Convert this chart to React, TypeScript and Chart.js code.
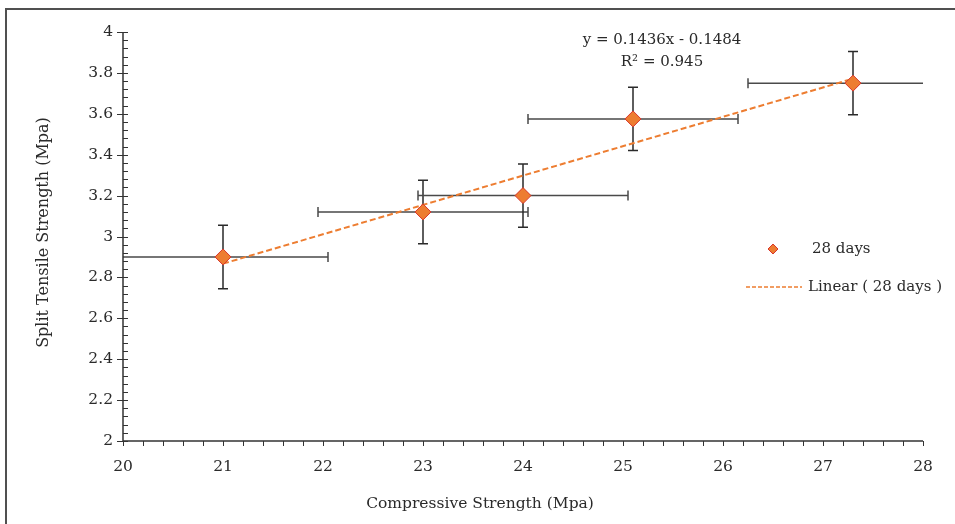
import React, { useEffect, useRef } from "react";
import { Chart, registerables } from "chart.js";

Chart.register(...registerables);

const seriesLabel = "28 days";
const trendLabel = "Linear ( 28 days )";
const xValues = [21, 23, 24, 25.1, 27.3];
const yValues = [2.9, 3.12, 3.2, 3.575, 3.75];
const xErrors = [1.05, 1.05, 1.05, 1.05, 1.05];
const yErrors = [0.155, 0.155, 0.155, 0.155, 0.155];
const slope = 0.1436;
const intercept = -0.1484;
const rSquared = 0.945;
const xTickValues = [20, 21, 22, 23, 24, 25, 26, 27, 28];
const xTickLabels = ["20", "21", "22", "23", "24", "25", "26", "27", "28"];
const yTickValues = [2, 2.2, 2.4, 2.6, 2.8, 3, 3.2, 3.4, 3.6, 3.8, 4];
const yTickLabels = ["2", "2.2", "2.4", "2.6", "2.8", "3", "3.2", "3.4", "3.6", "3.8", "4"];
const xMinorStep = 0.2;
const yMinorStep = 0.04;
const xTitle = "Compressive Strength (Mpa)";
const yTitle = "Split Tensile Strength (Mpa)";

const FONT = "'DejaVu Serif', serif";
const TEXT = "#2a2a2a";
const ORANGE = "#ED7D31";
const MARKER_BORDER = "#D9352B";

const customPlugin = {
  id: "custom",
  beforeDatasetsDraw(chart: any) {
    const { ctx, chartArea } = chart;
    const xs = chart.scales.x;
    const ys = chart.scales.y;
    ctx.save();
    ctx.beginPath();
    ctx.rect(chartArea.left, chartArea.top - 20, chartArea.right - chartArea.left, chartArea.bottom - chartArea.top + 20);
    ctx.clip();
    ctx.lineWidth = 1.5;
    const cap = 5;
    xValues.forEach((xv, i) => {
      const px = xs.getPixelForValue(xv);
      const py = ys.getPixelForValue(yValues[i]);
      const x1 = xs.getPixelForValue(xv - xErrors[i]);
      const x2 = xs.getPixelForValue(xv + xErrors[i]);
      const y1 = ys.getPixelForValue(yValues[i] + yErrors[i]);
      const y2 = ys.getPixelForValue(yValues[i] - yErrors[i]);
      ctx.strokeStyle = "#4a4a4a";
      ctx.beginPath();
      ctx.moveTo(x1, py); ctx.lineTo(x2, py);
      ctx.moveTo(x1, py - cap); ctx.lineTo(x1, py + cap);
      ctx.moveTo(x2, py - cap); ctx.lineTo(x2, py + cap);
      ctx.stroke();
      ctx.strokeStyle = "#2a2a2a";
      ctx.beginPath();
      ctx.moveTo(px, y1); ctx.lineTo(px, y2);
      ctx.moveTo(px - cap, y1); ctx.lineTo(px + cap, y1);
      ctx.moveTo(px - cap, y2); ctx.lineTo(px + cap, y2);
      ctx.stroke();
    });
    ctx.restore();
  },
  afterDraw(chart: any) {
    const { ctx, chartArea } = chart;
    const xs = chart.scales.x;
    const ys = chart.scales.y;
    ctx.save();
    // frame
    ctx.strokeStyle = "#505050";
    ctx.lineWidth = 2;
    ctx.beginPath();
    ctx.moveTo(6, 524);
    ctx.lineTo(6, 9);
    ctx.lineTo(955, 9);
    ctx.stroke();

    // axis lines & ticks
    ctx.strokeStyle = "#333333";
    ctx.lineWidth = 1.5;
    ctx.beginPath();
    ctx.moveTo(chartArea.left, chartArea.top);
    ctx.lineTo(chartArea.left, chartArea.bottom);
    ctx.lineTo(chartArea.right, chartArea.bottom);
    ctx.stroke();
    ctx.lineWidth = 1;
    ctx.beginPath();
    const xMin = xTickValues[0];
    const xMax = xTickValues[xTickValues.length - 1];
    const nx = Math.round((xMax - xMin) / xMinorStep);
    for (let i = 0; i <= nx; i++) {
      const px = Math.round(xs.getPixelForValue(xMin + i * xMinorStep)) + 0.5;
      ctx.moveTo(px, chartArea.bottom);
      ctx.lineTo(px, chartArea.bottom + 5);
    }
    const yMin = yTickValues[0];
    const yMax = yTickValues[yTickValues.length - 1];
    const ny = Math.round((yMax - yMin) / yMinorStep);
    for (let i = 0; i <= ny; i++) {
      const py = Math.round(ys.getPixelForValue(yMin + i * yMinorStep)) + 0.5;
      const major = i % 5 === 0;
      ctx.moveTo(chartArea.left - (major ? 6 : 0), py);
      ctx.lineTo(chartArea.left + 5, py);
    }
    ctx.stroke();

    // equation
    ctx.fillStyle = TEXT;
    ctx.font = `15px ${FONT}`;
    ctx.textAlign = "center";
    ctx.textBaseline = "middle";
    const ex = xs.getPixelForValue(25.39);
    const ey = ys.getPixelForValue(3.96);
    const sign = intercept < 0 ? "-" : "+";
    ctx.fillText(`y = ${slope}x ${sign} ${Math.abs(intercept)}`, ex, ey);
    ctx.fillText(`R² = ${rSquared}`, ex, ey + 22);

    // titles
    ctx.font = `15.5px ${FONT}`;
    ctx.fillText(xTitle, 480, 504);
    ctx.save();
    ctx.translate(44, (chartArea.top + chartArea.bottom) / 2 - 4);
    ctx.rotate(-Math.PI / 2);
    ctx.font = `16px ${FONT}`;
    ctx.fillText(yTitle, 0, 0);
    ctx.restore();

    // legend
    ctx.textAlign = "left";
    ctx.font = `15px ${FONT}`;
    const lx = 773, ly = 249, r = 5;
    ctx.beginPath();
    ctx.moveTo(lx, ly - r); ctx.lineTo(lx + r, ly); ctx.lineTo(lx, ly + r); ctx.lineTo(lx - r, ly); ctx.closePath();
    ctx.fillStyle = ORANGE; ctx.fill();
    ctx.strokeStyle = MARKER_BORDER; ctx.lineWidth = 1; ctx.stroke();
    ctx.fillStyle = TEXT;
    ctx.fillText(seriesLabel, 812, ly);
    ctx.beginPath();
    ctx.setLineDash([4, 2]);
    ctx.strokeStyle = ORANGE; ctx.lineWidth = 1.5;
    ctx.moveTo(746, 287); ctx.lineTo(802, 287);
    ctx.stroke();
    ctx.setLineDash([]);
    ctx.fillText(trendLabel, 808, 287);
    ctx.restore();
  },
};

export default function App() {
  const ref = useRef<HTMLCanvasElement | null>(null);
  useEffect(() => {
    document.body.style.margin = "0";
    const trendX = [Math.min(...xValues), Math.max(...xValues)];
    const chart = new Chart(ref.current as HTMLCanvasElement, {
      type: "scatter",
      data: {
        datasets: [
          {
            label: trendLabel,
            type: "line",
            data: trendX.map((x) => ({ x, y: slope * x + intercept })),
            borderColor: ORANGE,
            borderWidth: 2,
            borderDash: [6, 3],
            pointRadius: 0,
            fill: false,
            order: 1,
          } as any,
          {
            label: seriesLabel,
            data: xValues.map((x, i) => ({ x, y: yValues[i] })),
            pointStyle: "rectRot",
            pointRadius: 8,
            backgroundColor: ORANGE,
            borderColor: MARKER_BORDER,
            borderWidth: 1,
            order: 0,
          },
        ],
      },
      options: {
        responsive: false,
        animation: false,
        layout: { padding: { top: 32, right: 32, left: 0, bottom: 0 } },
        plugins: { legend: { display: false }, tooltip: { enabled: false } },
        scales: {
          x: {
            type: "linear",
            min: 20,
            max: 28,
            afterFit: (s: any) => { s.height = 83; },
            afterBuildTicks: (s: any) => { s.ticks = xTickValues.map((v) => ({ value: v })); },
            grid: { display: false, drawTicks: false },
            border: { display: false },
            ticks: {
              color: TEXT,
              font: { family: FONT, size: 15.5 },
              padding: 17,
              maxRotation: 0,
              callback: (_v: any, i: number) => xTickLabels[i],
            },
          },
          y: {
            type: "linear",
            min: 2,
            max: 4,
            afterFit: (s: any) => { s.width = 123; },
            afterBuildTicks: (s: any) => { s.ticks = yTickValues.map((v) => ({ value: v })); },
            grid: { display: false, drawTicks: false },
            border: { display: false },
            ticks: {
              color: TEXT,
              font: { family: FONT, size: 15.5 },
              padding: 10,
              callback: (_v: any, i: number) => yTickLabels[i],
            },
          },
        },
      },
      plugins: [customPlugin],
    });
    return () => chart.destroy();
  }, []);
  return (
    <div style={{ position: "fixed", left: 0, top: 0, width: 955, height: 524, background: "#fff" }}>
      <canvas ref={ref} width={955} height={524} />
    </div>
  );
}
